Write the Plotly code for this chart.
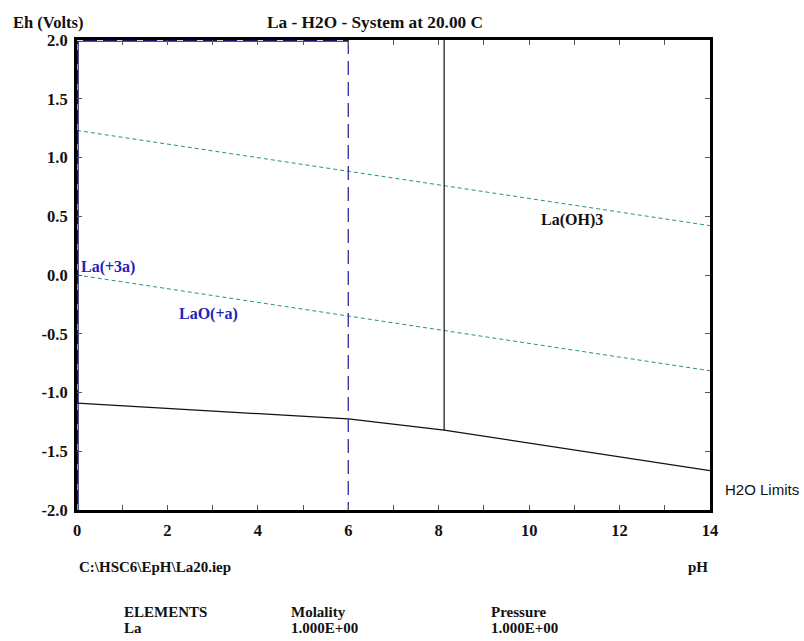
import plotly.graph_objects as go

# ---- data ----
ph_water = [0, 14]
eh_o2_limit = [1.23, 0.42]      # upper H2O limit
eh_h2_limit = [0.0, -0.815]     # lower H2O limit

ph_la = [0, 6.0, 8.12, 14]
eh_la = [-1.09, -1.225, -1.32, -1.665]   # La metal boundary

ph_laoh3_v = [8.12, 8.12]
eh_laoh3_v = [2.0, -1.32]

ph_la3_v = [6.0, 6.0]
eh_la3_v = [2.0, -2.0]

ph_blue_left = [0, 0]
eh_blue_left = [-2.0, 2.0]
ph_blue_top = [0, 6.0]
eh_blue_top = [2.0, 2.0]

species = ["La(+3a)", "LaO(+a)", "La(OH)3"]
species_ph = [0.05, 2.9, 10.95]
species_eh = [0.07, -0.33, 0.47]
species_col = ["#2222bb", "#2222bb", "#111111"]
species_anchor = ["left", "center", "center"]

x_ticks = [0, 2, 4, 6, 8, 10, 12, 14]
y_ticks = [2.0, 1.5, 1.0, 0.5, 0.0, -0.5, -1.0, -1.5, -2.0]

title_text = "La - H2O - System at 20.00 C"
file_text = "C:\\HSC6\\EpH\\La20.iep"
table_head = ["ELEMENTS", "Molality", "Pressure"]
table_row = ["La", "1.000E+00", "1.000E+00"]

SERIF = "Liberation Serif"
SANS = "Liberation Sans"

# layout geometry (pixels)
W, H = 804, 641
L, R, T, B = 77, 710, 40, 510

def px(x):
    return (x - L) / (R - L)

def py(y):
    return (B - y) / (B - T)

fig = go.Figure()

dotted = dict(color="#2f8a8a", width=1, dash="4px,3px")
fig.add_trace(go.Scatter(x=ph_water, y=eh_o2_limit, mode="lines", line=dotted, hoverinfo="skip"))
fig.add_trace(go.Scatter(x=ph_water, y=eh_h2_limit, mode="lines", line=dotted, hoverinfo="skip"))
fig.add_trace(go.Scatter(x=ph_la, y=eh_la, mode="lines", line=dict(color="#111111", width=1.3), hoverinfo="skip"))
fig.add_trace(go.Scatter(x=ph_laoh3_v, y=eh_laoh3_v, mode="lines", line=dict(color="#111111", width=1.2), hoverinfo="skip"))
fig.add_trace(go.Scatter(x=ph_la3_v, y=eh_la3_v, mode="lines",
                         line=dict(color="#3a3aa8", width=1.4, dash="14px,7px"), hoverinfo="skip"))
# blue domain boundary lying on the frame
for xs, ys, dcol in [(ph_blue_left, eh_blue_left, "#9a9a9a"), (ph_blue_top, eh_blue_top, "#d8d8d8")]:
    fig.add_trace(go.Scatter(x=xs, y=ys, mode="lines", line=dict(color="#14146a", width=3.5),
                             cliponaxis=False, hoverinfo="skip"))
    fig.add_trace(go.Scatter(x=xs, y=ys, mode="lines", line=dict(color=dcol, width=2, dash="6px,14px"),
                             cliponaxis=False, hoverinfo="skip"))

for name, x, y, c, a in zip(species, species_ph, species_eh, species_col, species_anchor):
    fig.add_annotation(x=x, y=y, text="<b>%s</b>" % name, showarrow=False, xanchor=a, yanchor="middle",
                       font=dict(family=SERIF, size=16, color=c))

def text(x, y, s, anchor="left", bold=True, family=SERIF, size=16):
    fig.add_annotation(xref="paper", yref="paper", x=px(x), y=py(y),
                       text=("<b>%s</b>" % s) if bold else s, showarrow=False,
                       xanchor=anchor, yanchor="middle", font=dict(family=family, size=size, color="#111111"))

text(11, 22, "Eh (Volts)", size=16.5)
text(375, 22, title_text, anchor="center", size=17.3)
text(723, 489, "H2O Limits", bold=False, family=SANS, size=15)
text(77, 567, file_text, size=15)
text(710, 567, "pH", anchor="right", size=15)
for s, x in zip(table_head, [122, 289, 489]):
    text(x, 612, s, size=15)
for s, x in zip(table_row, [122, 289, 489]):
    text(x, 628, s, size=15)

axis_common = dict(showline=True, linecolor="#000000", linewidth=3, mirror="ticks", showgrid=False,
                   zeroline=False, ticks="inside", ticklen=5, tickcolor="#555555", tickwidth=1,
                   ticklabelstandoff=3,
                   tickfont=dict(family=SERIF, size=16.5, color="#111111"))

fig.update_layout(
    width=W, height=H, margin=dict(l=L, r=W - R, t=T, b=H - B),
    paper_bgcolor="white", plot_bgcolor="white", showlegend=False,
    xaxis=dict(range=[0, 14], tickvals=x_ticks, ticktext=["<b>%d</b>" % v for v in x_ticks],
               minor=dict(ticks="inside", dtick=1, ticklen=5, tickcolor="#555555"), **axis_common),
    yaxis=dict(range=[-2, 2], tickvals=y_ticks, ticktext=["<b>%.1f</b>" % v for v in y_ticks], **axis_common),
)

fig.write_html("out.html")
